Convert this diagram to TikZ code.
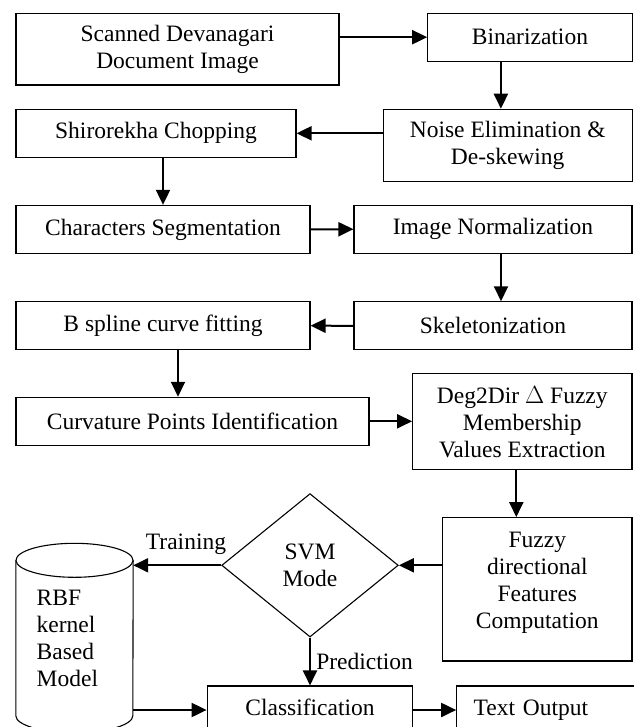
\documentclass[tikz,border=0pt]{standalone}
\usepackage{fontspec}
\setmainfont{Liberation Serif}
\usetikzlibrary{positioning,arrows.meta,shapes.geometric}

\begin{document}
\begin{tikzpicture}[x=1pt,y=-1pt,>={Triangle[length=15pt,width=14pt]},
  font=\fontsize{23.5pt}{27pt}\selectfont,
  procbox/.style={draw,line width=1.1pt,inner sep=0pt,align=center,minimum height=48pt},
  flow/.style={->,line width=2pt}]
\useasboundingbox (0,0) rectangle (633,727);
% pipeline boxes
\node[procbox,minimum width=323pt,minimum height=71.7pt] (scan) at (177.5,49.2) {Scanned Devanagari\\Document Image};
\node[procbox,minimum width=204.3pt] (bin) at (529.9,37.2) {Binarization};
\node[procbox,minimum width=248.7pt,minimum height=72.4pt] (noise) at (507.7,145.5) {Noise Elimination \&\\De-skewing};
\node[procbox,minimum width=280pt] (shiro) at (156,133.3) {Shirorekha Chopping};
\node[procbox,minimum width=294pt] (charseg) at (163,229.4) {Characters Segmentation};
\node[procbox,minimum width=278pt] (imnorm) at (493,229.2) {Image Normalization};
\node[procbox,minimum width=294pt] (bspline) at (163,325.7) {B spline curve fitting};
\node[procbox,minimum width=278pt] (skel) at (493,325.8) {Skeletonization};
\node[procbox,minimum width=353pt] (curv) at (192.5,421.3) {Curvature Points Identification};
\node[procbox,minimum width=219.3pt,minimum height=96pt] (deg) at (522.3,421.7) {Deg2Dir $\Delta$ Fuzzy\\Membership\\Values Extraction};
\node[procbox,minimum width=189.3pt,minimum height=143.3pt] (fuzzy) at (537.3,589.3) {Fuzzy\\directional\\Features\\Computation\\[-8pt]};
\node[draw,diamond,line width=1.1pt,inner sep=0pt,align=center,minimum width=176.6pt,minimum height=143.4pt] (svm) at (310,565.3) {SVM\\Mode};
\node[procbox,minimum width=205.7pt,text height=16pt,text depth=5pt] (class) at (310,710) {Classification};
\node[procbox,text width=150pt,inner xsep=17pt,align=left,text height=16pt,text depth=5pt] (textout) at (548.7,710) {Text Output};
% model store
\node[inner sep=0pt,inner xsep=20.7pt,text width=75.6pt,minimum height=155pt,align=left] (model) at (74.5,638) {RBF\\kernel\\Based\\Model};
\draw[line width=1.1pt] (model.north west) -- (model.south west) arc[start angle=180,end angle=360,x radius=58.5pt,y radius=17pt] -- (model.north east);
\draw[line width=1.1pt] (model.north) ellipse[x radius=58.5pt,y radius=17pt];
% connectors
\draw[flow] (scan.east |- bin.west) -- (bin.west);
\draw[flow] ([xshift=-29pt]bin.south) -- ([xshift=-29pt]bin.south |- noise.north);
\draw[flow] (noise.west |- shiro.east) -- (shiro.east);
\draw[flow] (charseg.north |- shiro.south) -- (charseg.north);
\draw[flow] (charseg.east) -- (imnorm.west);
\draw[flow] ([xshift=8pt]imnorm.south) -- ([xshift=8pt]skel.north);
\draw[flow] (skel.west) -- (bspline.east);
\draw[flow] ([xshift=15pt]bspline.south) -- ([xshift=15pt]bspline.south |- curv.north);
\draw[flow] (curv.east) -- (deg.west |- curv.east);
\draw[flow] ([xshift=-6pt]deg.south) -- ([xshift=-6pt]deg.south |- fuzzy.north);
\draw[flow] (fuzzy.west |- svm.east) -- (svm.east);
\draw[flow] (svm.west) -- (svm.west -| model.east) node[pos=0.4,above=6pt]{Training};
\draw[flow] (svm.south) -- (class.north) node[midway,right=2pt]{Prediction};
\draw[flow] (model.east |- class.west) -- (class.west);
\draw[flow] (class.east) -- (textout.west);
\end{tikzpicture}
\end{document}
